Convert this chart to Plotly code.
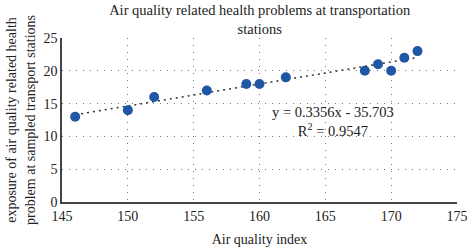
import plotly.graph_objects as go

aqi = [146, 150, 152, 156, 159, 160, 162, 168, 169, 170, 171, 172]
exposure = [13, 14, 16, 17, 18, 18, 19, 20, 21, 20, 22, 23]
slope = 0.3356
intercept = -35.703
x_ticks = [145, 150, 155, 160, 165, 170, 175]
y_ticks = [0, 5, 10, 15, 20, 25]

trend_x = [min(aqi), max(aqi)]
trend_y = [slope * v + intercept for v in trend_x]

font_family = "Liberation Serif"

fig = go.Figure()
fig.add_trace(go.Scatter(x=trend_x, y=trend_y, mode="lines",
                         line=dict(color="#333333", width=1.5, dash="2px,4px"),
                         showlegend=False, hoverinfo="skip"))
fig.add_trace(go.Scatter(x=aqi, y=exposure, mode="markers",
                         marker=dict(color="#1F57A4", size=10),
                         showlegend=False))

fig.add_annotation(x=165.6, y=12.2, xref="x", yref="y",
                   text="y = 0.3356x - 35.703<br>R<sup>2</sup> = 0.9547",
                   showarrow=False, align="center",
                   font=dict(family=font_family, size=14.5, color="#222222"))

fig.update_layout(
    width=468, height=249,
    margin=dict(l=62, r=11, t=38, b=47, autoexpand=False),
    paper_bgcolor="white", plot_bgcolor="white",
    font=dict(family=font_family, size=14, color="#222222"),
    title=dict(text="Air quality related health problems at transportation<br>stations",
               x=0.555, xanchor="center", yref="container", y=0.938, yanchor="middle",
               automargin=False,
               font=dict(family=font_family, size=14.5, color="#222222")),
)
fig.update_xaxes(range=[145, 175], tickvals=x_ticks, showgrid=True,
                 gridcolor="#777777", griddash="1px,6px", gridwidth=1.2,
                 showline=True, linecolor="#444444", linewidth=1.5,
                 zeroline=False, ticks="", automargin=False,
                 title=dict(text="Air quality index", standoff=12,
                            font=dict(family=font_family, size=14)))
fig.update_yaxes(range=[0, 25], tickvals=y_ticks, showgrid=True,
                 gridcolor="#777777", griddash="1px,6px", gridwidth=1.2,
                 showline=True, linecolor="#444444", linewidth=1.5,
                 zeroline=False, ticks="", automargin=False,
                 title=dict(text="exposure of air quality related health<br>problem at sampled transport stations",
                            standoff=5, font=dict(family=font_family, size=14)))

fig.write_html("out.html", config={"displayModeBar": False},
               post_script="document.body.style.margin='0';document.body.style.overflow='hidden';")
